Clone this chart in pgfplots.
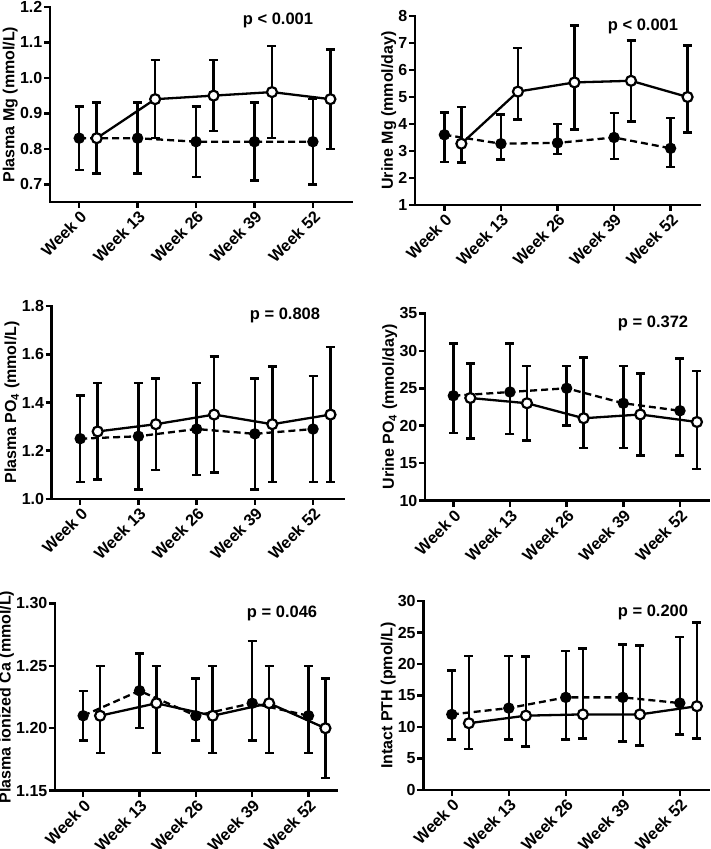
\documentclass[border=0pt]{standalone}
\usepackage{fontspec}
\setmainfont{Liberation Sans}
\usepackage{pgfplots}
\pgfplotsset{compat=1.18}
\newcommand\lbl{\bfseries\fontsize{16}{18}\selectfont}
\newcommand\wlbl{\bfseries\fontsize{16.3}{18}\selectfont}
\tikzset{pval/.style={font=\bfseries\fontsize{16.5}{19}\selectfont}}
\pgfplotsset{
 prism/.style={scale only axis, axis lines=left,
   axis line style={-, line width=2.5pt, line cap=rect},
   tick align=outside, major tick length=6pt,
   every tick/.style={black, line width=2.5pt},
   xtick={0,1,2,3,4},
   xticklabels={Week 0,Week 13,Week 26,Week 39,Week 52},
   xticklabel style={rotate=45, anchor=north east, font=\wlbl, inner sep=1pt},
   yticklabel style={font=\lbl, inner sep=1.5pt},
   ylabel style={font=\lbl, inner sep=0.5pt},
   /pgf/number format/assume math mode=true,
   clip=false, xmin=-0.5, xmax=4.5, anchor=south west},
 ctrl/.style={black, line width=2.3pt, dash pattern=on 7pt off 4pt,
   mark=*, mark size=4.5pt, mark options={solid, fill=black},
   error bars/y dir=both, error bars/y explicit,
   error bars/error bar style={line width=2.5pt, solid},
   error bars/error mark options={rotate=90, line width=2.5pt, mark size=4.5pt, solid}},
 trt/.style={black, line width=2.3pt, solid,
   mark=*, mark size=5pt, mark options={fill=white, line width=2.2pt},
   error bars/y dir=both, error bars/y explicit,
   error bars/error bar style={line width=2.5pt},
   error bars/error mark options={rotate=90, line width=2.5pt, mark size=4.5pt}}
}
\begin{document}
\begin{tikzpicture}

% Top-left: Plasma Mg
\begin{axis}[prism, at={(50pt,647pt)}, width=302pt, height=195pt,
  xmin=-0.5, xmax=4.67, ymin=0.65, ymax=1.2,
  ytick={0.7,0.8,0.9,1.0,1.1,1.2},
  yticklabel style={/pgf/number format/.cd, fixed, fixed zerofill, precision=1},
  ylabel={Plasma Mg (mmol/L)}]
\addplot[ctrl] coordinates {
 (0,0.83) += (0,0.09) -= (0,0.09)
 (1,0.83) += (0,0.10) -= (0,0.10)
 (2,0.82) += (0,0.10) -= (0,0.10)
 (3,0.82) += (0,0.11) -= (0,0.11)
 (4,0.82) += (0,0.12) -= (0,0.12)};
\addplot[trt] coordinates {
 (0.3,0.83) += (0,0.10) -= (0,0.10)
 (1.3,0.94) += (0,0.11) -= (0,0.11)
 (2.3,0.95) += (0,0.10) -= (0,0.10)
 (3.3,0.96) += (0,0.13) -= (0,0.13)
 (4.3,0.94) += (0,0.14) -= (0,0.14)};
\node[pval] at (rel axis cs:0.755,0.933) {p < 0.001};
\end{axis}

% Top-right: Urine Mg
\begin{axis}[prism, at={(415pt,644pt)}, width=285pt, height=189pt,
  xmin=-0.52, xmax=4.52, ymin=1, ymax=8,
  ytick={1,2,3,4,5,6,7,8},
  ylabel={Urine Mg (mmol/day)}]
\addplot[ctrl] coordinates {
 (0,3.60) += (0,0.82) -= (0,1.01)
 (1,3.27) += (0,1.08) -= (0,0.59)
 (2,3.30) += (0,0.70) -= (0,0.42)
 (3,3.50) += (0,0.90) -= (0,0.80)
 (4,3.10) += (0,1.12) -= (0,0.70)};
\addplot[trt] coordinates {
 (0.3,3.27) += (0,1.36) -= (0,0.70)
 (1.3,5.20) += (0,1.62) -= (0,1.04)
 (2.3,5.54) += (0,2.10) -= (0,1.74)
 (3.3,5.60) += (0,1.50) -= (0,1.50)
 (4.3,5.00) += (0,1.90) -= (0,1.31)};
\node[pval] at (rel axis cs:0.80,0.947) {p < 0.001};
\end{axis}

% Middle-left: Plasma PO4
\begin{axis}[prism, at={(51.7pt,350pt)}, width=291.6pt, height=193pt,
  xmin=-0.49, xmax=4.52, ymin=1.0, ymax=1.8,
  ytick={1.0,1.2,1.4,1.6,1.8},
  yticklabel style={/pgf/number format/.cd, fixed, fixed zerofill, precision=1},
  ylabel={Plasma PO\textsubscript{4} (mmol/L)}]
\addplot[ctrl] coordinates {
 (0,1.25) += (0,0.18) -= (0,0.18)
 (1,1.26) += (0,0.22) -= (0,0.22)
 (2,1.29) += (0,0.19) -= (0,0.19)
 (3,1.27) += (0,0.23) -= (0,0.23)
 (4,1.29) += (0,0.22) -= (0,0.22)};
\addplot[trt] coordinates {
 (0.3,1.28) += (0,0.20) -= (0,0.20)
 (1.3,1.31) += (0,0.19) -= (0,0.19)
 (2.3,1.35) += (0,0.24) -= (0,0.24)
 (3.3,1.31) += (0,0.24) -= (0,0.24)
 (4.3,1.35) += (0,0.28) -= (0,0.28)};
\node[pval] at (rel axis cs:0.80,0.953) {p = 0.808};
\end{axis}

% Middle-right: Urine PO4
\begin{axis}[prism, at={(425pt,348.3pt)}, width=283.3pt, height=187.4pt,
  ymin=10, ymax=35,
  ytick={10,15,20,25,30,35},
  ylabel={Urine PO\textsubscript{4} (mmol/day)}]
\addplot[ctrl] coordinates {
 (0,24.0) += (0,7.0) -= (0,5.0)
 (1,24.5) += (0,6.5) -= (0,5.6)
 (2,25.0) += (0,3.0) -= (0,5.0)
 (3,23.0) += (0,5.0) -= (0,6.0)
 (4,22.0) += (0,7.0) -= (0,6.0)};
\addplot[trt] coordinates {
 (0.3,23.7) += (0,4.6) -= (0,5.4)
 (1.3,23.0) += (0,5.0) -= (0,5.0)
 (2.3,21.0) += (0,8.1) -= (0,4.0)
 (3.3,21.5) += (0,5.5) -= (0,5.5)
 (4.3,20.5) += (0,6.8) -= (0,6.3)};
\node[pval] at (rel axis cs:0.805,0.948) {p = 0.372};
\end{axis}

% Bottom-left: Plasma ionized Ca
\begin{axis}[prism, at={(55pt,58.3pt)}, width=281.7pt, height=187.4pt,
  ymin=1.15, ymax=1.30,
  ytick={1.15,1.20,1.25,1.30},
  yticklabel style={/pgf/number format/.cd, fixed, fixed zerofill, precision=2},
  ylabel={Plasma ionized Ca (mmol/L)}]
\addplot[ctrl] coordinates {
 (0,1.21) += (0,0.02) -= (0,0.02)
 (1,1.23) += (0,0.03) -= (0,0.03)
 (2,1.21) += (0,0.03) -= (0,0.02)
 (3,1.22) += (0,0.05) -= (0,0.03)
 (4,1.21) += (0,0.04) -= (0,0.03)};
\addplot[trt] coordinates {
 (0.3,1.21) += (0,0.04) -= (0,0.03)
 (1.3,1.22) += (0,0.03) -= (0,0.04)
 (2.3,1.21) += (0,0.04) -= (0,0.03)
 (3.3,1.22) += (0,0.03) -= (0,0.04)
 (4.3,1.20) += (0,0.04) -= (0,0.04)};
\node[pval] at (rel axis cs:0.806,0.948) {p = 0.046};
\end{axis}

% Bottom-right: Intact PTH
\begin{axis}[prism, at={(423.3pt,59pt)}, width=285pt, height=189pt,
  ymin=0, ymax=30,
  ytick={0,5,10,15,20,25,30},
  ylabel={Intact PTH (pmol/L)}]
\addplot[ctrl] coordinates {
 (0,12.0) += (0,7.0) -= (0,4.0)
 (1,13.0) += (0,8.3) -= (0,5.0)
 (2,14.7) += (0,7.4) -= (0,6.7)
 (3,14.7) += (0,8.4) -= (0,7.0)
 (4,13.8) += (0,10.5) -= (0,5.0)};
\addplot[trt] coordinates {
 (0.3,10.6) += (0,10.7) -= (0,4.1)
 (1.3,11.8) += (0,9.4) -= (0,4.9)
 (2.3,12.0) += (0,10.5) -= (0,3.8)
 (3.3,12.0) += (0,10.9) -= (0,4.9)
 (4.3,13.3) += (0,13.3) -= (0,5.1)};
\node[pval] at (rel axis cs:0.806,0.94) {p = 0.200};
\end{axis}
\pgfresetboundingbox
\path[use as bounding box] (0pt,0pt) rectangle (710pt,849pt);
\end{tikzpicture}
\end{document}
